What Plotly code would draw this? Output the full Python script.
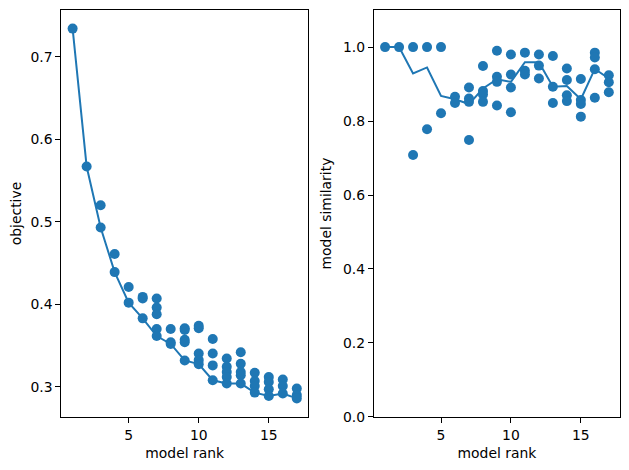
import plotly.graph_objects as go

# ---------------- data ----------------
obj_ranks = [1, 2, 3, 3, 4, 4, 5, 5, 6, 6, 6,
             7, 7, 7, 7, 7, 8, 8, 8,
             9, 9, 9, 9, 9, 10, 10, 10, 10, 10,
             11, 11, 11, 11, 12, 12, 12, 12, 12,
             13, 13, 13, 13, 13, 14, 14, 14, 14,
             15, 15, 15, 15, 16, 16, 16, 17, 17, 17]
obj_values = [0.734, 0.567, 0.520, 0.493, 0.461, 0.439, 0.421, 0.402, 0.409, 0.407, 0.383,
              0.407, 0.396, 0.388, 0.370, 0.3615, 0.370, 0.354, 0.352,
              0.371, 0.369, 0.357, 0.354, 0.332, 0.374, 0.371, 0.3405, 0.3324, 0.3275,
              0.358, 0.3405, 0.326, 0.308, 0.3344, 0.3242, 0.318, 0.312, 0.304,
              0.342, 0.328, 0.318, 0.314, 0.304, 0.317, 0.307, 0.301, 0.293,
              0.312, 0.306, 0.297, 0.289, 0.309, 0.301, 0.292, 0.298, 0.290, 0.286]

line_ranks = list(range(1, 18))
line_objective = [0.734, 0.567, 0.493, 0.439, 0.402, 0.383, 0.3615, 0.352, 0.332,
                  0.3275, 0.308, 0.304, 0.304, 0.293, 0.289, 0.292, 0.286]

sim_ranks = [1, 2, 3, 3, 4, 4, 5, 5, 6, 6,
             7, 7, 7, 7, 8, 8, 8, 8,
             9, 9, 9, 9, 10, 10, 10, 10,
             11, 11, 11, 12, 12, 12, 13, 13, 13,
             14, 14, 14, 14, 15, 15, 15, 15,
             16, 16, 16, 16, 17, 17, 17]
sim_values = [1.0, 1.0, 1.0, 0.708, 1.0, 0.778, 1.0, 0.821, 0.866, 0.849,
              0.891, 0.861, 0.852, 0.749, 0.949, 0.881, 0.872, 0.852,
              0.990, 0.920, 0.906, 0.842, 0.980, 0.926, 0.891, 0.824,
              0.985, 0.936, 0.926, 0.980, 0.950, 0.915, 0.976, 0.893, 0.849,
              0.942, 0.911, 0.870, 0.854, 0.914, 0.857, 0.846, 0.812,
              0.985, 0.972, 0.940, 0.863, 0.924, 0.905, 0.878]

line_similarity = [1.0, 1.0, 0.929, 0.945, 0.868, 0.859, 0.846, 0.888, 0.913,
                   0.906, 0.959, 0.959, 0.893, 0.895, 0.859, 0.941, 0.915]

x_ticks = [5, 10, 15]
obj_ticks = [0.3, 0.4, 0.5, 0.6, 0.7]
sim_ticks = [0.0, 0.2, 0.4, 0.6, 0.8, 1.0]

# ---------------- figure ----------------
C = "#1f77b4"
FONT = "DejaVu Sans"
FS = 13.9

fig = go.Figure()
fig.add_trace(go.Scatter(x=line_ranks, y=line_objective, mode="lines",
                         line=dict(color=C, width=2), xaxis="x", yaxis="y",
                         showlegend=False, hoverinfo="skip"))
fig.add_trace(go.Scatter(x=obj_ranks, y=obj_values, mode="markers",
                         marker=dict(color=C, size=10, line=dict(width=0)),
                         xaxis="x", yaxis="y", showlegend=False))
fig.add_trace(go.Scatter(x=line_ranks, y=line_similarity, mode="lines",
                         line=dict(color=C, width=2), xaxis="x2", yaxis="y2",
                         showlegend=False, hoverinfo="skip"))
fig.add_trace(go.Scatter(x=sim_ranks, y=sim_values, mode="markers",
                         marker=dict(color=C, size=10, line=dict(width=0)),
                         xaxis="x2", yaxis="y2", showlegend=False))

# page body has an 8px margin; the capture compresses the page height slightly
OFF = 8
KY = 470 / 478
W, H = 629 - 2 * OFF, 478 - 2 * OFF


def px_x(p):
    return (p - OFF) / W


def px_y(p):
    return 1 - (p / KY - OFF) / H


ax_common = dict(showgrid=False, zeroline=False, showline=True, linecolor="black",
                 linewidth=1, mirror=True, ticks="outside", ticklen=5, tickwidth=1,
                 tickcolor="black", tickfont=dict(family=FONT, size=FS, color="black"))
ydom = [px_y(417), px_y(10)]

fig.update_layout(
    width=W, height=H,
    margin=dict(l=0, r=0, t=0, b=0),
    paper_bgcolor="white", plot_bgcolor="white",
    font=dict(family=FONT, size=FS, color="black"),
    xaxis=dict(domain=[px_x(61.5), px_x(308.5)], range=[0.2, 17.8], tickvals=x_ticks,
               title=dict(text="model rank", font=dict(family=FONT, size=FS), standoff=6),
               anchor="y", **ax_common),
    yaxis=dict(domain=ydom, range=[0.2636, 0.7564], tickvals=obj_ticks,
               tickformat=".1f",
               title=dict(text="objective", font=dict(family=FONT, size=FS), standoff=8),
               anchor="x", **ax_common),
    xaxis2=dict(domain=[px_x(374.5), min(1.0, px_x(621))], range=[0.2, 17.8], tickvals=x_ticks,
                title=dict(text="model rank", font=dict(family=FONT, size=FS), standoff=6),
                anchor="y2", **ax_common),
    yaxis2=dict(domain=ydom, range=[0, 1.1], tickvals=sim_ticks, tickformat=".1f",
                title=dict(text="model similarity", font=dict(family=FONT, size=FS), standoff=8),
                anchor="x2", **ax_common),
)

fig.write_html("out.html", config={"displayModeBar": False})
